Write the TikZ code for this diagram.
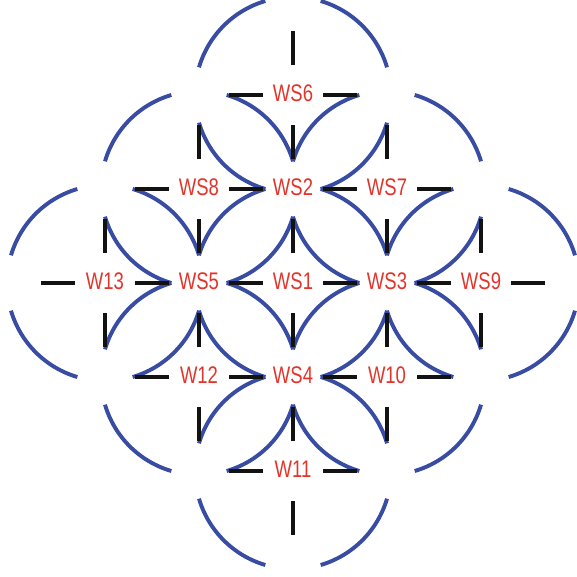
\documentclass[tikz,border=0pt]{standalone}
\usepackage{fontspec}
\newfontfamily\wsfont[FakeStretch=0.77]{Liberation Sans}
\usetikzlibrary{positioning,calc}
\definecolor{cellblue}{RGB}{56,76,163}
\definecolor{labelred}{RGB}{226,52,42}
\tikzset{
  ws/label/.style={text=labelred, font=\wsfont\fontsize{24}{24}\selectfont, inner sep=0pt, text depth=4pt},
  ws/arc/.style={draw=cellblue, line width=3.9pt},
  ws/tick/.style={draw=black!93, line width=3.9pt}
}
\newcommand{\cellradius}{98pt}
\newcommand{\gapangle}{16.4}

\begin{document}
\begin{tikzpicture}[on grid, node distance=94pt]
  \useasboundingbox (-293pt,-293pt) rectangle (284pt,283pt);

  \node[ws/label] (ws1) {WS1};
  \node[ws/label, above=of ws1] (ws2) {WS2};
  \node[ws/label, right=of ws1] (ws3) {WS3};
  \node[ws/label, below=of ws1] (ws4) {WS4};
  \node[ws/label, left=of ws1] (ws5) {WS5};
  \node[ws/label, above=of ws2] (ws6) {WS6};
  \node[ws/label, right=of ws2] (ws7) {WS7};
  \node[ws/label, left=of ws2] (ws8) {WS8};
  \node[ws/label, right=of ws3] (ws9) {WS9};
  \node[ws/label, below=of ws3] (w10) {W10};
  \node[ws/label, below=of ws4] (w11) {W11};
  \node[ws/label, below=of ws5] (w12) {W12};
  \node[ws/label, left=of ws5] (w13) {W13};

  % circles round every other cell, broken where the ticks point
  \foreach \c in {ws1,ws6,ws7,ws8,ws9,w10,w11,w12,w13}
    \foreach \a in {0,90,180,270}
      \draw[ws/arc] (\c.center) ++(\a+\gapangle:\cellradius)
        arc[start angle=\a+\gapangle, end angle=\a+90-\gapangle, radius=\cellradius];

  % ticks halfway between cells (right and up of every cell, plus the outer left/down ones)
  \foreach \c in {ws1,ws2,ws3,ws4,ws5,ws6,ws7,ws8,ws9,w10,w11,w12,w13}
    \foreach \a in {0,90}
      \draw[ws/tick] ($(\c.center)+(\a:30pt)$) -- ($(\c.center)+(\a:64pt)$);
  \foreach \c in {ws6,ws8,w13,w12,w11}
    \draw[ws/tick] ($(\c.center)+(180:30pt)$) -- ($(\c.center)+(180:64pt)$);
  \foreach \c in {w13,w12,w11,w10,ws9}
    \draw[ws/tick] ($(\c.center)+(270:30pt)$) -- ($(\c.center)+(270:64pt)$);
\end{tikzpicture}
\end{document}
